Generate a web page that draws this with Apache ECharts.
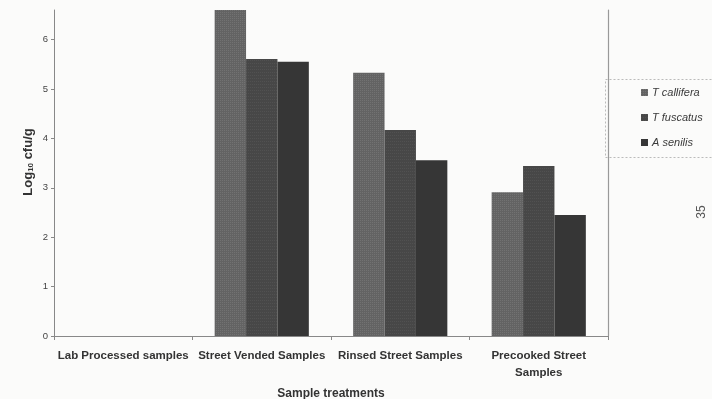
<!DOCTYPE html>
<html>
<head>
<meta charset="utf-8">
<script src="https://cdn.jsdelivr.net/npm/echarts@6/dist/echarts.min.js"></script>
<style>
html,body{margin:0;padding:0;background:#fbfbfa;}
#c{width:712px;height:399px;}
</style>
</head>
<body>
<div id="c"></div>
<script>
const categories = ['Lab Processed samples', 'Street Vended Samples', 'Rinsed Street Samples', 'Precooked Street Samples'];
const seriesNames = ['T callifera', 'T fuscatus', 'A senilis'];
const tCallifera = [0, 6.6, 5.33, 2.91];
const tFuscatus = [0, 5.61, 4.17, 3.44];
const aSenilis = [0, 5.55, 3.56, 2.45];
const yTicks = [0, 1, 2, 3, 4, 5, 6];
const colors = ['#636363', '#474747', '#363636'];

const chart = echarts.init(document.getElementById('c'), null, {renderer: 'canvas'});
const FONT = 'Liberation Sans, Arial, sans-serif';

function mkSeries(name, data, i) {
  const s = {
    name: name,
    type: 'bar',
    data: data,
    barGap: '0%',
    barCategoryGap: '32%',
    itemStyle: {color: colors[i]},
    emphasis: {disabled: true}
  };
  if (i === 0) {
    s.itemStyle.decal = {symbol: 'rect', symbolSize: 1, color: 'rgba(255,255,255,0.10)', dashArrayX: [1, 1], dashArrayY: [1, 1], rotation: 0};
  } else if (i === 1) {
    s.itemStyle.decal = {symbol: 'rect', symbolSize: 1, color: 'rgba(255,255,255,0.06)', dashArrayX: [1, 1], dashArrayY: [1, 2], rotation: 0};
  }
  return s;
}

chart.setOption({
  backgroundColor: '#fbfbfa',
  animation: false,
  grid: {left: 54, right: 104, top: 10, bottom: 63, containLabel: false, outerBoundsMode: 'none'},
  legend: {
    orient: 'vertical',
    left: 603,
    top: 77,
    padding: [10, 20, 8, 38],
    itemWidth: 7,
    itemHeight: 7,
    itemGap: 14,
    icon: 'rect',
    selectedMode: false,
    textStyle: {fontFamily: FONT, fontSize: 11, fontStyle: 'italic', color: '#3a3a3a', padding: [0, 0, 0, -1]},
    data: seriesNames
  },
  xAxis: {
    type: 'category',
    data: categories,
    axisLine: {lineStyle: {color: '#888', width: 1}},
    axisTick: {show: true, length: 4, lineStyle: {color: '#888'}},
    axisLabel: {
      interval: 0,
      margin: 11,
      fontFamily: FONT,
      fontSize: 11.5,
      fontWeight: 'bold',
      color: '#333',
      lineHeight: 17,
      formatter: function (v) { return v === 'Precooked Street Samples' ? 'Precooked Street\nSamples' : v; }
    },
    name: 'Sample treatments',
    nameLocation: 'middle',
    nameGap: 52,
    nameTextStyle: {fontFamily: FONT, fontSize: 12, fontWeight: 'bold', color: '#333'}
  },
  yAxis: [{
    type: 'value',
    min: 0,
    max: 6.6,
    interval: 1,
    splitLine: {show: false},
    axisLine: {show: true, lineStyle: {color: '#888', width: 1}},
    axisTick: {show: true, length: 3, lineStyle: {color: '#888'}, customValues: yTicks},
    axisLabel: {fontFamily: FONT, fontSize: 9.5, color: '#444', margin: 6, customValues: yTicks}
  }, {
    type: 'value',
    position: 'right',
    min: 0,
    max: 6.6,
    splitLine: {show: false},
    axisLine: {show: true, lineStyle: {color: '#999', width: 1.2}},
    axisTick: {show: false},
    axisLabel: {show: false}
  }],
  graphic: [
    {
      type: 'rect',
      left: 603, top: 77,
      shape: {width: 130, height: 78},
      style: {fill: 'none', stroke: '#bbb', lineWidth: 1, lineDash: [2, 2]},
      silent: true
    },
    {
      type: 'text',
      x: 28, y: 162,
      rotation: Math.PI / 2,
      style: {
        text: '{a|Log}{b|10}{a| cfu/g}',
        align: 'center',
        verticalAlign: 'middle',
        rich: {
          a: {fontFamily: FONT, fontSize: 13, fontWeight: 'bold', fill: '#333', verticalAlign: 'bottom'},
          b: {fontFamily: FONT, fontSize: 8, fontWeight: 'bold', fill: '#333', verticalAlign: 'bottom'}
        }
      }
    },
    {
      type: 'text',
      x: 702, y: 212,
      rotation: Math.PI / 2,
      style: {text: '35', align: 'center', verticalAlign: 'middle', fontFamily: FONT, fontSize: 12, fill: '#555'}
    }
  ],
  series: [
    mkSeries(seriesNames[0], tCallifera, 0),
    mkSeries(seriesNames[1], tFuscatus, 1),
    mkSeries(seriesNames[2], aSenilis, 2)
  ]
});
</script>
</body>
</html>
